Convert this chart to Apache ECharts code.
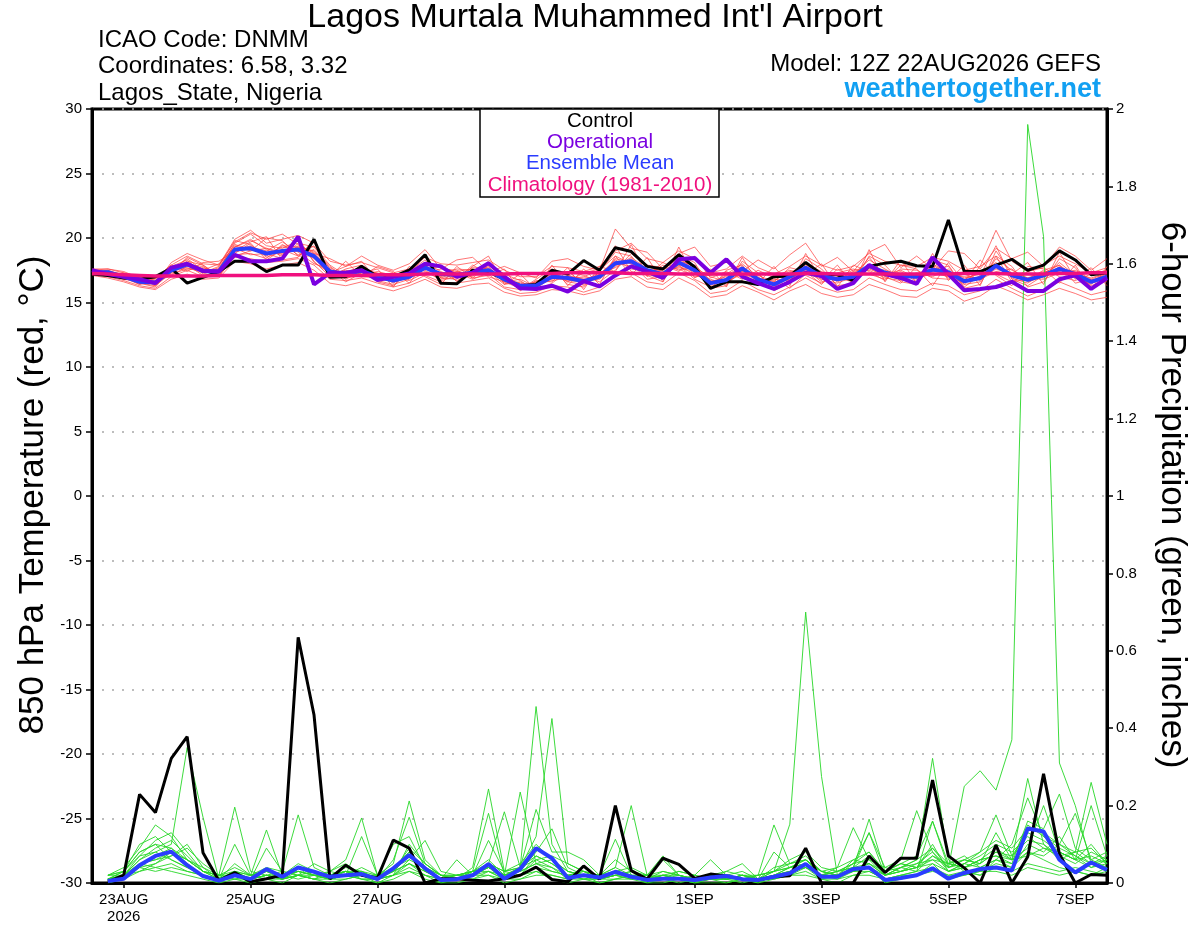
<!DOCTYPE html>
<html><head><meta charset="utf-8">
<script src="https://cdn.jsdelivr.net/npm/echarts@6/dist/echarts.min.js"></script>
<style>html,body{margin:0;padding:0;background:#fff}#c{width:1200px;height:927px}</style>
</head><body><div id="c"></div>
<script>
// ---------- DATA (6-hourly, 12Z 22AUG2026 .. 12Z 07SEP2026) ----------
const controlTemp = [
17.2,17.1,16.9,16.8,17.0,17.65,16.5,16.95,17.4,18.2,
18.2,17.4,17.9,17.9,19.9,16.95,17.0,17.8,17.0,17.0,
17.5,18.7,16.5,16.45,17.5,17.4,16.8,16.3,16.4,17.5,
17.2,18.25,17.5,19.25,18.95,17.8,17.6,18.7,17.75,16.1,
16.6,16.6,16.4,17.0,17.05,18.1,17.2,17.15,16.7,17.8,
18.05,18.2,17.85,17.8,21.4,17.4,17.4,17.9,18.35,17.5,
17.9,19.0,18.3,17.15,17.3];
const operationalTemp = [
17.5,17.2,17.0,16.8,16.5,17.7,18.0,17.45,17.4,18.7,
18.2,18.2,18.4,20.1,16.4,17.3,17.3,17.5,16.75,17.0,
17.25,18.0,17.8,17.0,17.3,18.05,17.0,16.1,16.05,16.3,
15.85,16.65,16.25,17.1,17.8,17.4,16.9,18.35,18.45,17.3,
18.35,17.0,16.5,16.05,16.6,17.3,17.05,16.05,16.5,17.9,
17.2,16.9,16.45,18.5,17.2,15.95,16.05,16.2,16.6,15.9,
15.9,16.8,17.1,16.05,16.9];
const meanTemp = [
17.35,17.35,17.0,16.6,16.55,17.5,17.95,17.45,17.4,19.1,
19.2,18.8,19.0,19.1,18.6,17.4,17.2,17.45,17.0,16.7,
17.0,17.7,17.2,17.15,17.3,17.5,16.8,16.3,16.3,17.0,
16.9,16.65,17.0,18.05,18.2,17.5,17.2,18.1,17.5,16.5,
16.75,17.65,16.8,16.4,17.0,17.7,17.05,16.8,17.0,17.85,
17.3,17.05,17.0,17.55,17.35,16.65,16.9,17.85,17.1,16.75,
17.1,17.6,17.2,16.6,17.0];
const climatologyTemp = [
17.25,17.2,17.15,17.1,17.05,17.05,17.05,17.05,17.1,17.1,
17.1,17.1,17.15,17.15,17.15,17.1,17.1,17.1,17.15,17.15,
17.15,17.2,17.2,17.2,17.2,17.2,17.2,17.25,17.25,17.25,
17.3,17.3,17.3,17.3,17.25,17.25,17.25,17.2,17.2,17.2,
17.2,17.2,17.2,17.2,17.2,17.25,17.25,17.2,17.2,17.2,
17.2,17.2,17.2,17.2,17.2,17.25,17.25,17.25,17.2,17.2,
17.2,17.25,17.25,17.3,17.3];
const controlPrecip = [
null,0.003,0.02,0.229,0.182,0.322,0.378,0.078,0.006,0.027,
0.003,0.011,0.02,0.635,0.434,0.011,0.046,0.02,0.013,0.111,
0.09,0,0.011,0.011,0.007,0.005,0.011,0.02,0.041,0.009,
0.003,0.044,0.01,0.2,0.032,0.01,0.064,0.048,0.012,0.023,
0.018,0.01,0.008,0.016,0.019,0.09,0,0,0,0.07,
0.027,0.064,0.064,0.266,0.07,0.039,0,0.098,0,0.068,
0.282,0.075,0,0.022,0.02];
const meanPrecip = [
null,0.005,0.011,0.046,0.07,0.081,0.046,0.018,0.006,0.02,
0.01,0.036,0.016,0.04,0.029,0.016,0.02,0.023,0.01,0.038,
0.072,0.038,0.008,0.01,0.02,0.049,0.011,0.036,0.09,0.064,
0.013,0.02,0.014,0.029,0.016,0.008,0.011,0.011,0.008,0.014,
0.018,0.01,0.008,0.016,0.025,0.049,0.016,0.016,0.036,0.04,
0.008,0.013,0.02,0.038,0.011,0.026,0.036,0.04,0.032,0.141,
0.133,0.06,0.027,0.053,0.034];

// ensemble member 850 hPa temperatures
const tempM01 = [17.4,17.5,17.1,16.5,16.3,17.8,18.3,17.2,17.6,19.6, 20.3,19.4,19.2,19.8,18.2,17.0,17.6,17.9,16.6,16.3, 17.4,18.3,16.9,16.8,17.9,17.2,16.2,16.0,16.8,17.6, 16.4,16.2,17.4,18.9,18.6,17.1,16.6,18.7,18.1,16.1, 16.3,18.2,17.3,15.9,16.6,18.4,17.6,16.3,16.5,18.6, 17.9,16.6,16.4,18.3,17.9,16.1,16.4,18.6,17.8,16.2, 16.6,18.4,17.7,16.1,16.7];
const tempM02 = [17.3,17.2,16.8,16.8,16.9,17.2,17.6,17.7,17.3,18.7, 18.8,18.4,19.5,18.7,19.1,17.8,16.9,17.1,17.4,17.1, 16.7,17.3,17.6,17.5,16.9,17.9,17.2,16.7,15.9,16.5, 17.4,17.1,16.6,17.5,18.8,17.9,17.7,17.6,17.0,17.1, 17.3,17.0,16.3,17.0,17.5,17.1,16.5,17.3,17.6,17.2, 16.8,17.6,17.5,16.9,16.8,17.2,17.5,17.2,16.6,17.4, 17.7,17.0,16.7,17.2,17.5];
const tempM03 = [17.5,17.3,17.2,16.7,16.4,17.6,18.2,17.9,17.1,19.3, 19.9,19.1,18.6,19.4,18.9,17.5,17.3,17.8,17.2,16.5, 17.3,17.9,17.0,17.4,17.6,17.0,16.6,16.1,16.6,17.3, 17.2,16.3,17.2,18.3,17.6,17.4,17.5,18.5,17.3,16.3, 17.1,17.8,16.6,16.7,17.4,17.6,16.6,17.0,17.5,17.7, 17.0,17.4,16.6,17.9,17.2,16.8,17.3,18.1,16.9,16.5, 17.3,17.9,17.0,16.4,17.4];
const tempM04 = [17.2,17.1,16.9,16.4,16.7,17.4,18.1,17.3,17.8,19.8, 19.5,18.5,19.0,19.2,18.4,17.2,17.5,17.2,16.8,16.9, 17.6,17.5,16.7,17.0,17.7,17.6,16.9,16.5,16.2,17.1, 16.8,17.0,17.5,18.6,18.0,16.8,17.0,18.2,17.9,16.7, 16.5,17.4,17.2,16.2,16.9,18.0,17.4,16.6,17.2,18.3, 17.6,16.9,17.3,17.0,17.6,16.4,16.6,18.4,17.5,16.9, 16.8,17.3,17.5,16.8,16.6];
const tempM05 = [17.3,17.4,17.0,16.9,16.6,17.1,17.8,17.6,17.5,18.9, 19.3,19.0,19.7,18.9,18.0,17.6,16.8,17.5,17.3,16.6, 16.9,18.1,17.4,16.9,17.1,17.8,16.5,16.4,16.5,16.8, 17.1,16.8,16.8,17.8,18.5,17.6,17.3,17.8,17.2,16.6, 17.0,17.6,16.9,16.5,17.2,17.4,17.0,16.9,16.8,17.9, 17.4,17.2,16.8,17.3,17.0,17.0,16.9,17.6,17.3,16.9, 17.4,17.4,16.9,16.6,17.1];
const tempM06 = [17.4,17.3,17.1,16.6,16.5,17.7,17.9,17.1,17.2,19.2, 18.7,18.8,18.4,19.6,19.3,17.9,17.1,17.0,16.9,16.8, 17.2,17.6,17.8,17.3,16.8,17.3,17.1,16.0,16.3,17.4, 16.6,16.4,17.1,18.1,17.8,17.8,17.4,17.9,16.8,16.2, 16.9,17.7,16.6,16.8,16.7,17.9,17.2,17.1,17.3,17.5, 16.9,16.7,17.1,17.6,17.8,16.2,17.1,19.4,16.8,16.3, 17.1,17.7,17.3,16.3,16.8];
const tempM07 = [17.3,17.2,16.9,16.7,16.8,17.5,18.4,17.5,17.3,18.8, 19.6,18.3,19.1,18.6,18.6,17.3,17.4,17.7,16.7,16.4, 16.8,17.8,17.2,17.6,17.5,17.4,16.4,16.6,16.1,16.9, 17.0,16.7,17.3,17.7,18.4,17.2,16.8,18.4,17.7,17.0, 16.6,17.2,16.8,16.3,17.1,17.3,16.8,16.5,17.0,18.0, 17.2,17.5,16.9,17.5,17.1,17.2,16.7,18.0,17.0,17.2, 16.9,17.8,17.2,16.9,17.3];
const tempM08 = [17.4,17.4,17.2,16.5,16.2,17.6,17.7,17.3,17.7,19.5, 19.1,18.9,18.8,19.3,19.0,17.7,17.0,17.4,17.1,16.9, 17.1,17.4,16.8,17.2,17.4,17.7,16.8,16.3,16.6,17.2, 17.4,16.5,16.9,18.4,18.1,17.3,17.1,17.9,17.5,16.4, 17.2,18.0,17.0,16.1,17.3,17.8,16.9,16.7,17.4,17.6, 17.1,16.8,17.2,17.8,16.9,16.6,16.8,17.4,17.6,16.6, 17.0,18.1,17.1,16.5,16.9];
const tempM09 = [17.3,17.3,16.8,16.6,16.6,17.3,17.9,17.8,17.0,19.0, 19.4,18.7,19.3,19.1,18.5,17.1,17.2,17.6,17.0,16.7, 16.9,17.6,17.3,16.7,17.2,17.3,16.9,16.4,16.4,16.7, 16.9,16.9,17.0,17.9,18.3,17.5,17.6,17.7,17.4,16.8, 16.4,17.5,17.1,16.6,16.8,17.5,17.3,16.9,16.6,17.8, 17.5,17.1,17.0,17.4,17.4,16.9,17.2,17.7,17.2,16.7, 17.3,17.5,17.4,16.7,17.2];
const tempM10 = [17.4,17.2,17.0,16.8,16.4,17.4,18.0,17.4,17.6,19.4, 19.0,19.2,18.9,19.0,18.8,17.4,17.3,17.3,16.9,16.6, 17.0,17.9,17.1,17.0,17.3,17.5,16.7,16.2,16.4,17.0, 16.7,16.6,17.2,18.2,18.0,17.4,17.2,18.0,17.6,16.5, 16.8,17.7,16.9,16.4,17.0,17.7,17.1,16.8,17.1,17.8, 17.3,17.0,17.1,17.6,17.3,16.7,17.0,17.9,17.2,16.8, 17.2,17.6,17.3,16.6,17.0];
const tempM11 = [17.2,17.0,16.7,16.3,16.1,17.0,17.5,17.0,17.1,18.5, 18.4,18.1,18.2,18.4,17.9,16.8,16.7,16.9,16.5,16.2, 16.5,17.1,16.6,16.5,16.7,16.9,16.1,15.7,15.8,16.3, 16.2,15.8,16.2,17.2,17.3,16.6,16.4,17.3,16.7,15.7, 15.9,16.7,16.0,15.6,16.2,16.9,16.2,15.8,16.0,16.9, 16.4,16.0,15.9,16.5,16.3,15.6,15.9,16.8,16.1,15.5, 16.0,16.6,16.1,15.6,15.9];
const tempM12 = [17.6,17.6,17.3,17.0,16.9,17.9,18.6,18.0,17.9,19.9, 20.6,19.6,19.9,20.2,19.6,18.2,17.9,18.1,17.7,17.3, 17.6,18.5,18.0,17.9,18.1,18.3,17.5,17.0,17.0,17.8, 17.7,17.4,17.8,19.0,19.6,18.4,18.1,19.0,18.4,17.3, 17.6,18.6,17.7,17.2,17.8,18.6,17.9,17.5,17.8,18.8, 18.2,17.9,17.8,18.5,18.2,17.5,17.8,20.6,18.2,17.4, 17.9,18.6,18.0,17.3,17.7];
const tempM13 = [17.5,17.6,17.4,16.9,16.4,18.1,18.8,18.3,17.9,19.7, 20.4,19.9,20.3,19.5,18.8,18.4,17.8,18.6,17.9,17.5, 18.0,19.1,17.6,18.3,18.5,17.4,17.8,17.3,16.9,18.2, 18.4,17.8,17.5,20.7,19.2,18.9,17.6,18.8,19.3,17.8, 18.1,17.4,18.3,17.6,18.7,19.6,17.8,18.5,17.4,18.9, 19.5,17.7,18.6,17.6,19.0,18.8,17.6,19.2,18.4,18.9, 17.8,19.3,18.6,17.5,18.4];
const tempM14 = [17.1,16.9,16.6,16.2,16.0,16.8,17.2,16.8,16.9,18.2, 18.0,17.6,17.9,18.1,17.5,16.5,16.3,16.6,16.2,15.9, 16.3,16.8,16.2,16.1,16.4,16.5,15.8,15.5,15.6,16.0, 15.9,15.6,15.9,16.8,17.0,16.2,16.0,16.9,16.3,15.4, 15.6,16.3,15.8,15.2,15.9,16.4,15.7,15.4,15.6,16.4, 16.0,15.5,15.4,16.1,15.9,15.1,15.5,16.3,15.8,15.2, 15.6,16.1,15.7,15.2,15.4];
const tempM15 = [17.3,17.5,17.0,16.4,16.9,17.9,17.4,18.1,18.2,19.0, 19.7,20.1,18.3,18.5,19.9,17.0,18.2,17.0,17.8,17.4, 16.5,18.0,17.9,16.6,17.8,18.6,16.4,17.2,16.0,17.9, 16.3,17.6,16.4,18.6,17.1,18.5,16.6,19.3,16.9,17.6, 16.2,18.5,16.5,17.8,16.3,18.8,16.7,17.9,16.4,19.1, 16.6,18.3,16.5,18.8,16.7,17.9,16.3,19.0,17.2,18.1, 16.4,18.9,16.8,17.7,16.3];
const tempM16 = [17.2,17.3,16.9,16.9,16.3,17.3,18.5,17.9,17.0,18.6, 19.0,20.0,19.8,18.6,19.4,17.6,16.6,17.3,17.6,16.2, 17.8,17.0,16.4,17.8,16.9,17.1,17.6,15.9,16.7,16.6, 17.7,16.0,17.8,17.4,19.5,17.0,17.9,17.4,18.6,16.9, 17.4,16.8,17.5,16.9,16.1,17.2,18.0,16.2,17.9,17.4, 16.7,17.9,17.6,16.3,18.1,16.6,18.3,17.1,16.3,17.8, 17.6,16.5,17.9,16.0,17.8];
const tempM17 = [17.4,17.1,17.3,16.5,16.6,17.6,17.6,17.5,18.0,19.3, 19.8,19.2,18.7,20.0,18.1,17.3,17.8,18.2,16.7,17.2, 17.2,18.6,16.9,17.4,17.0,18.2,16.6,16.8,16.2,17.3, 16.6,17.3,17.6,19.4,17.4,17.1,18.1,17.5,17.8,16.0, 17.5,17.9,16.4,16.6,17.7,17.4,16.4,17.6,16.9,18.5, 17.0,16.5,17.8,18.0,17.3,16.4,17.8,18.6,16.6,16.8, 17.5,17.9,16.5,16.8,17.3];
const tempM18 = [17.3,17.2,17.0,16.6,16.7,17.5,18.0,17.6,17.4,19.1, 19.3,18.6,19.4,19.3,18.7,17.5,17.0,17.5,17.2,16.8, 17.1,17.7,17.3,17.1,17.2,17.6,16.7,16.4,16.2,17.1, 17.0,16.6,17.1,18.0,18.2,17.6,17.1,18.2,17.4,16.6, 16.8,17.6,16.7,16.4,17.1,17.6,17.1,16.9,17.1,17.7, 17.3,17.1,16.9,17.7,17.4,16.6,16.9,17.8,17.0,16.8, 17.1,17.5,17.2,16.7,17.0];

// ensemble member 6-hour precipitation (inches)
const precM01 = [null,0.01,0.02,0.05,0.04,0.03,0.02,0.01,0,0.01, 0,0.01,0,0.02,0.01,0,0.01,0.02,0,0.01, 0.03,0.01,0,0,0.01,0.02,0,0.01,0.03,0.01, 0,0.01,0,0.01,0.02,0,0,0.01,0,0, 0,0.01,0,0.01,0.02,0.04,0.01,0,0.02,0.03, 0.01,0.02,0.03,0.16,0.04,0.25,0.29,0.24,0.37,1.96, 1.67,0.31,0.2,0.05,0.03];
const precM02 = [null,0.01,0.03,0.08,0.1,0.06,0.04,0.02,0.01,0.03, 0.01,0.02,0.01,0.03,0.02,0.01,0.02,0.01,0.01,0.03, 0.05,0.02,0,0.01,0.02,0.04,0.01,0.02,0.06,0.04, 0.01,0.02,0.01,0.02,0.01,0,0.01,0,0.01,0.02, 0.01,0,0.01,0.03,0.152,0.7,0.275,0.02,0.03,0.04, 0,0.01,0.02,0.05,0.01,0.02,0.03,0.05,0.04,0.08, 0.06,0.04,0.03,0.02,0.04];
const precM03 = [null,0.01,0.02,0.06,0.08,0.1,0.35,0.17,0.01,0.02, 0.01,0.03,0.01,0.02,0.01,0.02,0.03,0.01,0,0.02, 0.06,0.04,0.01,0.02,0.03,0.18,0.02,0.03,0.05,0.03, 0.02,0.01,0.02,0.113,0.02,0.01,0.02,0.01,0,0.01, 0.02,0.01,0,0.02,0.04,0.05,0.02,0.01,0.03,0.05, 0.02,0.04,0.06,0.322,0.06,0.03,0.02,0.06,0.04,0.1, 0.08,0.12,0.06,0.04,0.05];
const precM04 = [null,0.02,0.04,0.09,0.15,0.12,0.06,0.03,0.01,0.05, 0.02,0.04,0.03,0.176,0.04,0.02,0.03,0.02,0.01,0.04, 0.08,0.03,0.01,0.01,0.02,0.05,0.03,0.02,0.07,0.05, 0.02,0.03,0.01,0.03,0.04,0.02,0.06,0.02,0.01,0.02, 0.01,0.02,0.01,0.04,0.05,0.07,0.03,0.02,0.05,0.08, 0.03,0.05,0.07,0.16,0.05,0.04,0.06,0.09,0.06,0.15, 0.12,0.1,0.07,0.05,0.06];
const precM05 = [null,0.01,0.02,0.07,0.11,0.13,0.08,0.03,0.02,0.196, 0.03,0.02,0.01,0.04,0.02,0.01,0.02,0.03,0.01,0.02, 0.1,0.05,0.02,0.01,0.03,0.06,0.02,0.04,0.12,0.425, 0.05,0.03,0.01,0.02,0.03,0.01,0.02,0.01,0.02,0.01, 0.02,0.01,0.02,0.03,0.06,0.08,0.04,0.03,0.05,0.13, 0.04,0.03,0.05,0.08,0.03,0.05,0.07,0.1,0.08,0.12, 0.09,0.07,0.08,0.26,0.1];
const precM06 = [null,0.01,0.01,0.04,0.07,0.09,0.05,0.02,0.01,0.1, 0.02,0.03,0.02,0.03,0.02,0.03,0.06,0.168,0.02,0.03, 0.07,0.04,0.01,0.02,0.02,0.04,0.02,0.03,0.08,0.14, 0.04,0.02,0.01,0.03,0.02,0.01,0.02,0.01,0.01,0.02, 0.01,0.02,0.02,0.15,0.05,0.06,0.03,0.02,0.04,0.07, 0.02,0.04,0.03,0.07,0.04,0.06,0.05,0.08,0.07,0.13, 0.11,0.08,0.06,0.1,0.05];
const precM07 = [null,0.02,0.03,0.1,0.12,0.08,0.05,0.02,0.01,0.03, 0.02,0.137,0.02,0.05,0.03,0.02,0.03,0.02,0.01,0.03, 0.09,0.05,0.02,0.01,0.04,0.243,0.03,0.05,0.1,0.06, 0.03,0.02,0.02,0.06,0.03,0.01,0.03,0.02,0.01,0.02, 0.01,0.02,0.01,0.02,0.03,0.05,0.03,0.04,0.143,0.06, 0.02,0.03,0.04,0.1,0.03,0.04,0.06,0.07,0.05,0.16, 0.14,0.23,0.09,0.06,0.08];
const precM08 = [null,0.01,0.02,0.05,0.06,0.07,0.1,0.04,0.01,0.02, 0.01,0.09,0.03,0.02,0.05,0.03,0.02,0.04,0.02,0.05, 0.212,0.06,0.02,0.02,0.03,0.03,0.02,0.04,0.06,0.07, 0.05,0.03,0.02,0.03,0.02,0.02,0.01,0.03,0.02,0.01, 0.03,0.05,0.01,0.02,0.03,0.04,0.02,0.03,0.04,0.05, 0.02,0.04,0.05,0.06,0.05,0.07,0.04,0.06,0.1,0.22, 0.12,0.09,0.07,0.04,0.06];
const precM09 = [null,0.02,0.02,0.06,0.09,0.11,0.07,0.03,0.02,0.04, 0.02,0.03,0.02,0.04,0.03,0.02,0.04,0.03,0.01,0.06, 0.17,0.05,0.02,0.01,0.02,0.05,0.184,0.04,0.07,0.05, 0.02,0.03,0.02,0.04,0.2,0.02,0.03,0.02,0.01,0.02, 0.02,0.01,0.02,0.03,0.04,0.06,0.03,0.02,0.06,0.08, 0.03,0.05,0.04,0.09,0.04,0.05,0.08,0.176,0.07,0.11, 0.1,0.06,0.08,0.05,0.07];
const precM10 = [null,0.01,0.03,0.07,0.08,0.06,0.04,0.02,0.01,0.03, 0.01,0.02,0.03,0.02,0.01,0.03,0.05,0.02,0.02,0.04, 0.06,0.11,0.03,0.02,0.03,0.04,0.02,0.235,0.05,0.04, 0.02,0.02,0.01,0.02,0.03,0.02,0.02,0.03,0.02,0.06, 0.02,0.03,0.01,0.02,0.04,0.05,0.02,0.03,0.05,0.06, 0.04,0.06,0.187,0.08,0.04,0.06,0.05,0.08,0.06,0.09, 0.2,0.08,0.06,0.07,0.05];
const precM11 = [null,0.01,0.02,0.04,0.05,0.08,0.06,0.03,0.01,0.02, 0.01,0.02,0.01,0.02,0.02,0.01,0.03,0.02,0.01,0.02, 0.05,0.03,0.01,0.01,0.02,0.11,0.03,0.04,0.456,0.1, 0.03,0.02,0.01,0.02,0.02,0.01,0.02,0.01,0.01,0.01, 0.01,0.02,0.01,0.08,0.04,0.05,0.02,0.02,0.03,0.04, 0.02,0.03,0.04,0.06,0.03,0.05,0.04,0.06,0.05,0.08, 0.07,0.1,0.18,0.06,0.04];
const precM12 = [null,0.02,0.03,0.08,0.1,0.09,0.06,0.03,0.02,0.03, 0.02,0.03,0.02,0.03,0.02,0.02,0.03,0.02,0.02,0.03, 0.08,0.04,0.02,0.02,0.03,0.05,0.03,0.04,0.19,0.08, 0.08,0.06,0.02,0.03,0.02,0.02,0.01,0.02,0.01,0.02, 0.02,0.01,0.02,0.03,0.05,0.06,0.03,0.02,0.04,0.165, 0.03,0.05,0.04,0.07,0.05,0.04,0.06,0.07,0.06,0.27, 0.1,0.07,0.05,0.08,0.06];
const precM13 = [null,0.01,0.02,0.03,0.05,0.07,0.09,0.05,0.02,0.01, 0.01,0.02,0.01,0.02,0.03,0.01,0.02,0.12,0.02,0.03, 0.05,0.03,0.01,0.06,0.02,0.03,0.01,0.02,0.04,0.03, 0.02,0.01,0.01,0.02,0.01,0.02,0.07,0.02,0.01,0.01, 0.01,0.02,0.01,0.02,0.03,0.04,0.02,0.03,0.04,0.13, 0.02,0.03,0.04,0.05,0.03,0.04,0.05,0.13,0.06,0.07, 0.09,0.08,0.06,0.2,0.07];
const precM14 = [null,0,0.01,0.03,0.04,0.05,0.03,0.02,0.01,0.02, 0,0.01,0.02,0.01,0.02,0.01,0.01,0.02,0.01,0.02, 0.04,0.02,0.01,0.01,0.01,0.03,0.01,0.02,0.03,0.02, 0.01,0.02,0,0.01,0.02,0.01,0.01,0.01,0,0.01, 0,0.01,0.01,0.02,0.02,0.03,0.01,0.02,0.03,0.03, 0.01,0.02,0.03,0.04,0.02,0.03,0.02,0.04,0.03,0.05, 0.04,0.03,0.04,0.03,0.02];
const precM15 = [null,0.01,0.01,0.05,0.06,0.08,0.06,0.04,0.02,0.02, 0.01,0.02,0.02,0.03,0.02,0.02,0.03,0.03,0.02,0.1, 0.12,0.04,0.02,0.01,0.03,0.04,0.02,0.03,0.05,0.06, 0.03,0.02,0.02,0.04,0.02,0.01,0.02,0.02,0.01,0.02, 0.03,0.02,0.01,0.03,0.04,0.06,0.02,0.04,0.06,0.05, 0.03,0.04,0.06,0.09,0.05,0.06,0.08,0.11,0.09,0.14, 0.13,0.1,0.08,0.09,0.05];
const precM16 = [null,0.01,0.02,0.04,0.03,0.04,0.03,0.02,0.01,0.01, 0.02,0.01,0.01,0.02,0.01,0.01,0.02,0.01,0.01,0.02, 0.03,0.02,0.01,0.02,0.02,0.02,0.01,0.01,0.02,0.02, 0.01,0.01,0.01,0.01,0.01,0.01,0.01,0.01,0.01,0.01, 0.01,0.01,0.01,0.01,0.02,0.02,0.01,0.01,0.02,0.02, 0.01,0.02,0.02,0.03,0.02,0.02,0.03,0.03,0.02,0.04, 0.03,0.02,0.03,0.02,0.03];

const tempMembers = [tempM01,tempM02,tempM03,tempM04,tempM05,tempM06,tempM07,tempM08,tempM09,
                     tempM10,tempM11,tempM12,tempM13,tempM14,tempM15,tempM16,tempM17,tempM18];
const precipMembers = [precM01,precM02,precM03,precM04,precM05,precM06,precM07,precM08,
                       precM09,precM10,precM11,precM12,precM13,precM14,precM15,precM16];

// axis: 6-hourly valid times, first = model run 12Z 22AUG2026
const MONTHS = ['JAN','FEB','MAR','APR','MAY','JUN','JUL','AUG','SEP','OCT','NOV','DEC'];
const runStart = Date.UTC(2026, 7, 22, 12);
const categories = [];
for (let k = 0; k < controlTemp.length; k++) {
  const d = new Date(runStart + k * 6 * 3600 * 1000);
  categories.push(String(d.getUTCHours()).padStart(2,'0') + 'Z' + d.getUTCDate() + MONTHS[d.getUTCMonth()]);
}
const tickLabels = {
  '00Z23AUG':'23AUG\n2026','00Z25AUG':'25AUG','00Z27AUG':'27AUG','00Z29AUG':'29AUG',
  '00Z1SEP':'1SEP','00Z3SEP':'3SEP','00Z5SEP':'5SEP','00Z7SEP':'7SEP'
};
const tempTicks = {min:-30, max:30, interval:5};
const precipTicks = {min:0, max:2, interval:0.2};

// ---------- CHART ----------
const FONT = '"Liberation Sans", Arial, Helvetica, sans-serif';
const chart = echarts.init(document.getElementById('c'), null, {renderer:'canvas'});
const showTick = (idx, val) => tickLabels[val] !== undefined;

const series = [];
tempMembers.forEach((m, k) => series.push({
  name:'member T'+(k+1), type:'line', yAxisIndex:0, data:m, symbol:'none', silent:true, z:2,
  lineStyle:{color:'rgba(255,60,60,0.7)', width:1}
}));
precipMembers.forEach((m, k) => series.push({
  name:'member P'+(k+1), type:'line', yAxisIndex:1, data:m, symbol:'none', silent:true, z:2,
  lineStyle:{color:'rgba(40,215,40,0.9)', width:1}
}));
series.push(
  {name:'Control T', type:'line', yAxisIndex:0, data:controlTemp, symbol:'none', z:4, lineStyle:{color:'#000', width:3}},
  {name:'Control P', type:'line', yAxisIndex:1, data:controlPrecip, symbol:'none', z:4, lineStyle:{color:'#000', width:3}},
  {name:'Ensemble Mean T', type:'line', yAxisIndex:0, data:meanTemp, symbol:'none', z:5, lineStyle:{color:'#2a3cff', width:4}},
  {name:'Ensemble Mean P', type:'line', yAxisIndex:1, data:meanPrecip, symbol:'none', z:5, lineStyle:{color:'#2a3cff', width:4}},
  {name:'Operational', type:'line', yAxisIndex:0, data:operationalTemp, symbol:'none', z:6, lineStyle:{color:'#7a00e0', width:4}},
  {name:'Climatology', type:'line', yAxisIndex:0, data:climatologyTemp, symbol:'none', z:7, lineStyle:{color:'#f0107e', width:3.5}}
);

const txt = (text, x, y, size, color, align, weight) => ({
  type:'text', x:x, y:y, z:100,
  style:{text:text, x:0, y:0, fill:color||'#000', font:(weight||'normal')+' '+size+'px '+FONT,
         textAlign:align||'left', textVerticalAlign:'middle', align:align||'left', verticalAlign:'middle'}
});

const option = {
  animation:false,
  backgroundColor:'#fff',
  grid:{left:92, right:93, top:109, bottom:44, show:true, borderColor:'#000', borderWidth:3, backgroundColor:'transparent'},
  xAxis:{
    type:'category', data:categories, boundaryGap:false,
    axisLine:{show:true, onZero:false, lineStyle:{color:'#000', width:3}},
    axisTick:{show:true, interval:showTick, length:5, lineStyle:{color:'#000', width:1.5}},
    axisLabel:{interval:showTick, formatter:v => tickLabels[v] || '', color:'#000', fontSize:15, fontFamily:FONT, margin:8, lineHeight:17},
    splitLine:{show:false}
  },
  yAxis:[
    {type:'value', position:'left', min:tempTicks.min, max:tempTicks.max, interval:tempTicks.interval,
     axisLine:{show:true, lineStyle:{color:'#000', width:3}},
     axisTick:{show:true, length:6, lineStyle:{color:'#000', width:1.5}},
     axisLabel:{color:'#000', fontSize:15, fontFamily:FONT, margin:10},
     splitLine:{show:true, lineStyle:{color:'#a8a8a8', width:1.5, type:[2,8]}}},
    {type:'value', position:'right', min:precipTicks.min, max:precipTicks.max, interval:precipTicks.interval,
     axisLine:{show:true, lineStyle:{color:'#000', width:3}},
     axisTick:{show:true, length:6, lineStyle:{color:'#000', width:1.5}},
     axisLabel:{color:'#000', fontSize:15, fontFamily:FONT, margin:9},
     splitLine:{show:false}}
  ],
  graphic:[
    txt("Lagos Murtala Muhammed Int'l Airport", 595, 18, 34, '#000', 'center'),
    txt('ICAO Code: DNMM', 98, 40, 24, '#000', 'left'),
    txt('Coordinates: 6.58, 3.32', 98, 66, 24, '#000', 'left'),
    txt('Lagos_State, Nigeria', 98, 93, 24, '#000', 'left'),
    txt('Model: 12Z 22AUG2026 GEFS', 1101, 64, 24, '#000', 'right'),
    txt('weathertogether.net', 1101, 90, 27, '#12a0f2', 'right', 'bold'),
    {type:'rect', z:90, shape:{x:480, y:109, width:239, height:88}, style:{fill:'#fff', stroke:'#000', lineWidth:1.5}},
    txt('Control', 600, 121, 20.5, '#000', 'center'),
    txt('Operational', 600, 142, 20.5, '#7a00e0', 'center'),
    txt('Ensemble Mean', 600, 163, 20.5, '#2a3cff', 'center'),
    txt('Climatology (1981-2010)', 600, 185, 20.5, '#f0107e', 'center'),
    Object.assign(txt('850 hPa Temperature (red, °C)', 33, 495, 35, '#000', 'center'), {rotation:Math.PI/2}),
    Object.assign(txt('6-hour Precipitation (green, inches)', 1172, 495, 35, '#000', 'center'), {rotation:-Math.PI/2})
  ],
  series:series
};
chart.setOption(option);
</script>
</body></html>
